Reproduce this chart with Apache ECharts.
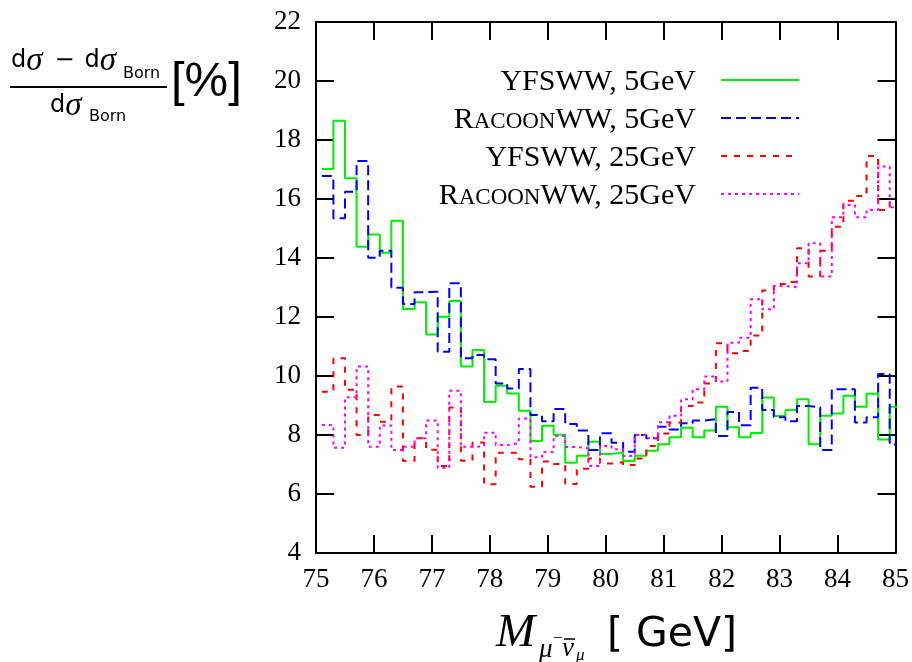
<!DOCTYPE html>
<html>
<head>
<meta charset="utf-8">
<script src="https://cdn.jsdelivr.net/npm/echarts@6/dist/echarts.min.js"></script>
<style>
html,body{margin:0;padding:0;background:#fff;}
#chart{width:912px;height:662px;}
</style>
</head>
<body>
<div id="chart"></div>
<script>
// Bin edges (GeV) of the histograms
const binEdges = [75.1,75.3,75.5,75.7,75.9,76.1,76.3,76.5,76.7,76.9,
  77.1,77.3,77.5,77.7,77.9,78.1,78.3,78.5,78.7,78.9,
  79.1,79.3,79.5,79.7,79.9,80.1,80.3,80.5,80.7,80.9,
  81.1,81.3,81.5,81.7,81.9,82.1,82.3,82.5,82.7,82.9,
  83.1,83.3,83.5,83.7,83.9,84.1,84.3,84.5,84.7,84.9,85.1];

const seriesNames = ['YFSWW, 5GeV','RacoonWW, 5GeV','YFSWW, 25GeV','RacoonWW, 25GeV'];

const yfsww5 = [17.02,18.65,16.70,14.38,14.80,14.18,15.26,12.27,12.50,11.41,
  12.01,12.54,10.32,10.88,9.12,9.67,9.41,8.82,7.80,8.31,
  8.01,7.06,7.30,7.77,7.36,7.40,7.12,7.30,7.47,7.69,
  7.92,8.25,7.92,8.15,8.96,8.26,7.92,8.07,9.27,8.64,
  8.85,9.21,7.69,8.65,8.73,9.33,8.96,9.40,7.85,8.96];

const racoon5 = [16.78,15.35,16.25,17.29,14.01,14.25,12.99,12.44,12.84,12.86,
  10.82,13.14,10.60,10.71,10.57,9.75,9.58,10.24,8.68,8.47,
  8.88,8.37,8.15,7.49,8.06,7.74,7.43,8.00,7.89,8.28,
  8.19,8.40,8.49,8.54,7.97,8.78,8.33,9.60,8.85,8.60,
  8.47,8.98,8.94,7.49,9.55,9.55,8.42,8.60,10.07,7.68];

const yfsww25 = [9.47,10.60,9.53,8.00,8.68,8.45,9.64,7.12,7.89,7.50,
  6.95,8.93,7.13,7.75,6.33,7.40,7.40,7.18,6.25,7.10,
  7.02,6.34,6.86,7.20,7.03,7.08,6.98,7.20,7.63,8.05,
  8.42,8.98,9.10,9.75,11.11,10.77,10.85,11.37,12.90,13.12,
  13.19,14.33,13.37,14.25,15.06,15.94,16.10,17.46,15.63,15.90];

const racoon25 = [8.34,7.57,9.28,10.32,7.60,8.32,7.49,7.60,7.89,8.49,
  6.89,9.50,7.60,7.61,8.08,7.66,7.72,8.56,7.25,7.42,
  7.97,7.59,7.55,6.95,7.63,7.52,7.29,8.00,7.89,8.43,
  8.65,9.21,9.55,9.98,9.81,11.13,11.30,12.60,12.26,13.05,
  13.01,13.82,14.50,13.37,15.38,15.80,15.38,15.63,17.10,15.72];

const xTicks = {min:75, max:85, interval:1};
const yTicks = {min:4, max:22, interval:2};

function steps(vals){
  const d = vals.map((v,i)=>[binEdges[i], v]);
  d.push([binEdges[vals.length], vals[vals.length-1]]);
  return d;
}

const chart = echarts.init(document.getElementById('chart'), null, {renderer:'canvas'});
const serif = 'Liberation Serif';
const sans = 'DejaVu Sans';

const axisCommon = {
  axisLine:{show:true, onZero:false, lineStyle:{color:'#000', width:2}},
  axisTick:{show:true, inside:true, length:18, lineStyle:{color:'#000', width:2}},
  splitLine:{show:false}
};

function legendFmt(name){
  if(name.indexOf('Racoon')===0){
    return '{r|R}{sc|ACOON}{r|' + name.slice(6) + '}';
  }
  return '{r|' + name + '}';
}
const legendRich = {
  r:{fontFamily:serif, fontSize:30, color:'#000', verticalAlign:'bottom', lineHeight:34},
  sc:{fontFamily:serif, fontSize:23, color:'#000', verticalAlign:'bottom', lineHeight:34, padding:[0,0,2,0]}
};
const legendTops = [67, 105, 143, 181];
const legends = seriesNames.map((n,i)=>({
  data:[n], right:112, top:legendTops[i], orient:'vertical', align:'right',
  itemWidth:78, itemHeight:14, padding:0, selectedMode:false,
  itemStyle:{opacity:0},
  formatter: legendFmt,
  textStyle:{fontFamily:serif, fontSize:30, color:'#000', padding:[0,20,0,0], rich:legendRich}
}));

const colors = ['#00ee00','#0000ff','#ff0000','#ff00ff'];
const dashes = ['solid',[10,5],[6,7],[3,4]];
const allVals = [yfsww5, racoon5, yfsww25, racoon25];

const dRich = {
  d:{fontFamily:sans, fontSize:24, fill:'#000'},
  g:{fontFamily:serif, fontStyle:'italic', fontSize:33, fill:'#000', padding:[0,2,0,0]},
  m:{fontFamily:sans, fontSize:24, fill:'#000', padding:[0,10,0,10]}
};

const option = {
  backgroundColor:'#fff',
  animation:false,
  grid:{left:316, top:22, width:582, height:531, containLabel:false},
  legend: legends,
  xAxis:[
    Object.assign({type:'value', position:'bottom', min:xTicks.min, max:xTicks.max, interval:xTicks.interval,
      axisLabel:{color:'#000', fontFamily:serif, fontSize:27, margin:13}}, axisCommon),
    Object.assign({type:'value', position:'top', min:xTicks.min, max:xTicks.max, interval:xTicks.interval,
      axisLabel:{show:false}}, axisCommon)
  ],
  yAxis:[
    Object.assign({type:'value', position:'left', min:yTicks.min, max:yTicks.max, interval:yTicks.interval,
      axisLabel:{color:'#000', fontFamily:serif, fontSize:27, margin:15}}, axisCommon),
    Object.assign({type:'value', position:'right', min:yTicks.min, max:yTicks.max, interval:yTicks.interval,
      axisLabel:{show:false}}, axisCommon)
  ],
  series: seriesNames.map((n,i)=>({
    name:n, type:'line', step:'end', showSymbol:false, symbol:'none', clip:true,
    xAxisIndex:0, yAxisIndex:0,
    data: steps(allVals[i]),
    lineStyle:{color:colors[i], width:2, type:dashes[i]},
    itemStyle:{color:colors[i]},
    z: 2+i
  })),
  graphic:[
    // y axis title: fraction
    {type:'text', x:11, y:61, style:{text:'{d|d}{g|σ}{m|−}{d|d}{g|σ}', verticalAlign:'middle', rich:dRich}},
    {type:'text', x:123, y:74, style:{text:'Born', fontFamily:sans, fontSize:16, fill:'#000', verticalAlign:'middle'}},
    {type:'line', shape:{x1:10, y1:87, x2:167, y2:87}, style:{stroke:'#000', lineWidth:2}},
    {type:'text', x:50, y:106, style:{text:'{d|d}{g|σ}', verticalAlign:'middle', rich:dRich}},
    {type:'text', x:89, y:117, style:{text:'Born', fontFamily:sans, fontSize:16, fill:'#000', verticalAlign:'middle'}},
    {type:'text', x:171, y:82, style:{text:'[%]', fontFamily:'Liberation Sans', fontSize:49, fill:'#000', verticalAlign:'middle'}},
    // x axis title
    {type:'text', x:496, y:634, style:{text:'M', fontFamily:serif, fontStyle:'italic', fontSize:47, fill:'#000', verticalAlign:'middle'}},
    {type:'text', x:539, y:650, style:{text:'μ', fontFamily:serif, fontStyle:'italic', fontSize:27, fill:'#000', verticalAlign:'middle'}},
    {type:'text', x:553, y:639, style:{text:'−', fontFamily:serif, fontSize:17, fill:'#000', verticalAlign:'middle'}},
    {type:'text', x:562, y:649, style:{text:'ν', fontFamily:serif, fontStyle:'italic', fontSize:27, fill:'#000', verticalAlign:'middle'}},
    {type:'line', shape:{x1:564, y1:639, x2:575, y2:639}, style:{stroke:'#000', lineWidth:1.5}},
    {type:'text', x:576, y:656, style:{text:'μ', fontFamily:serif, fontStyle:'italic', fontSize:17, fill:'#000', verticalAlign:'middle'}},
    {type:'text', x:607, y:635, style:{text:'[ GeV]', fontFamily:sans, fontSize:41, fill:'#000', verticalAlign:'middle'}}
  ]
};
chart.setOption(option);
</script>
</body>
</html>
